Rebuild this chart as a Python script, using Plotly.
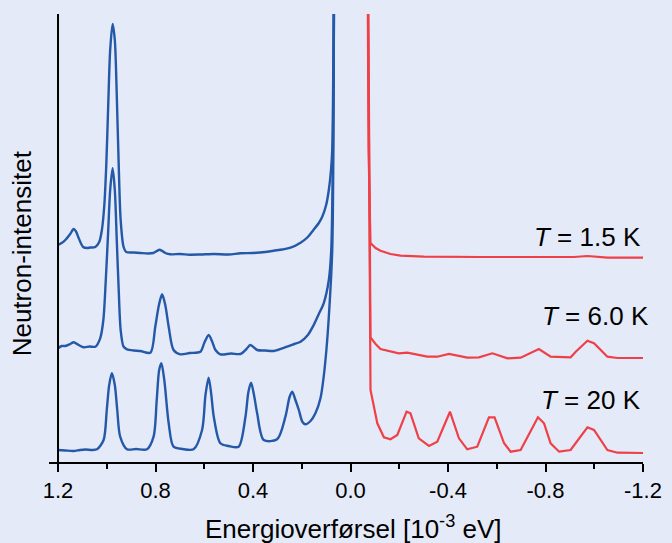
import plotly.graph_objects as go

# ---- data (energy transfer in 10^-3 eV, intensity in arbitrary units with vertical offsets) ----
e_blue_15 = [1.200, 1.185, 1.170, 1.150, 1.136, 1.125, 1.117, 1.097, 1.080, 1.068, 1.047, 1.031, 1.020,
             1.010, 1.002, 0.994, 0.986, 0.976, 0.967, 0.959, 0.951, 0.943, 0.931, 0.920, 0.890,
             0.862, 0.830, 0.809, 0.783, 0.760, 0.739, 0.700, 0.660, 0.616, 0.560, 0.500, 0.452,
             0.400, 0.350, 0.316, 0.280, 0.246, 0.205, 0.175, 0.152, 0.130, 0.116, 0.100, 0.089,
             0.080, 0.075, 0.069, 0.066]
i_blue_15 = [217, 219, 222, 228, 233, 230, 225, 215, 214, 214.5, 215, 220, 232,
             257, 297, 357, 412, 438, 422, 367, 297, 242, 215, 210, 209.5,
             209, 208.5, 209, 212.3, 209, 207.7, 208, 207.3, 207.5, 208, 207.5, 208.7,
             209, 210, 211.3, 212.5, 214.3, 219.3, 225, 232, 239, 245.3, 257, 272,
             292, 312, 448, 700]

e_blue_60 = [1.200, 1.185, 1.170, 1.150, 1.136, 1.115, 1.095, 1.070, 1.047, 1.027, 1.014, 1.004,
             0.994, 0.986, 0.976, 0.967, 0.959, 0.951, 0.943, 0.931, 0.917, 0.890, 0.862, 0.821,
             0.801, 0.786, 0.773, 0.760, 0.746, 0.726, 0.698, 0.660, 0.616, 0.600, 0.582, 0.567,
             0.554, 0.534, 0.490, 0.452, 0.427, 0.411, 0.383, 0.350, 0.315, 0.260, 0.230, 0.205,
             0.175, 0.151, 0.130, 0.110, 0.089, 0.079, 0.072, 0.068, 0.066]
i_blue_60 = [113.7, 116, 116, 118, 119.7, 117, 114.7, 115.5, 115.3, 123.7, 142, 182,
             232, 272, 293.7, 272, 222, 172, 132, 115.3, 112.7, 111.5, 111, 109.3,
             135.3, 157, 167.7, 157, 135.3, 112, 107.7, 109, 110.3, 119, 127, 120,
             112, 107.7, 108.5, 108, 113, 117, 112, 111.5, 111, 115.3, 118, 120.3,
             127, 137, 148, 158.7, 182, 212, 312, 448, 700]

e_blue_20 = [1.200, 1.170, 1.136, 1.110, 1.088, 1.060, 1.040, 1.013, 1.000, 0.990, 0.979, 0.967,
             0.957, 0.945, 0.917, 0.880, 0.835, 0.808, 0.795, 0.785, 0.776, 0.764, 0.746, 0.726,
             0.690, 0.644, 0.609, 0.595, 0.582, 0.571, 0.561, 0.534, 0.500, 0.459, 0.431, 0.419,
             0.408, 0.396, 0.383, 0.356, 0.301, 0.267, 0.250, 0.239, 0.226, 0.212, 0.197, 0.185,
             0.164, 0.144, 0.123, 0.110, 0.099, 0.089, 0.075, 0.068, 0.066]
i_blue_20 = [12, 11.5, 11, 12, 12.5, 12, 12.7, 22, 52, 77, 88.7, 77,
             52, 25.3, 12.7, 13, 12.7, 25.3, 62, 92, 98.7, 82, 38.7, 15.3,
             13, 12.7, 32, 67, 84.3, 67, 45.3, 18.7, 16, 15.3, 45.3, 70,
             79.3, 67, 48.7, 22, 22.7, 45.3, 65, 70.3, 62, 52, 40, 37.7,
             41, 48.7, 64, 85.3, 112, 145.3, 212, 448, 700]

e_red_15 = [-0.066, -0.074, -0.082, -0.103, -0.123, -0.164, -0.205, -0.301, -0.534, -0.917,
            -0.972, -1.054, -1.200]
i_red_15 = [700, 312, 219, 214, 211.3, 208, 206.3, 205.3, 205, 205, 206, 204.3, 204.3]

e_red_60 = [-0.066, -0.078, -0.082, -0.103, -0.123, -0.198, -0.233, -0.315, -0.356, -0.404,
            -0.479, -0.527, -0.582, -0.644, -0.698, -0.773, -0.821, -0.903, -0.924, -0.972,
            -0.999, -1.054, -1.095, -1.200]
i_red_60 = [700, 200, 124.7, 118, 113, 108.7, 109.3, 105.3, 105.3, 108,
            104.3, 104.7, 108.7, 103.7, 104.3, 113, 105.3, 104.7, 110.3, 121.3,
            118.7, 105.3, 104, 104]

e_red_20 = [-0.066, -0.082, -0.110, -0.137, -0.164, -0.192, -0.230, -0.246, -0.280, -0.322,
            -0.356, -0.408, -0.445, -0.479, -0.520, -0.568, -0.591, -0.630, -0.657, -0.698,
            -0.769, -0.794, -0.821, -0.856, -0.903, -0.972, -0.999, -1.054, -1.095, -1.200]
i_red_20 = [700, 72, 38.7, 24.7, 22.7, 27, 50.3, 48.7, 23.7, 16,
            20.3, 50.3, 23.7, 12.7, 15.3, 44.7, 44.7, 18.7, 10.3, 12,
            44.7, 38.7, 18.7, 10.3, 12, 34.7, 32, 12, 9.3, 9]

tick_vals = [1.2, 0.8, 0.4, 0.0, -0.4, -0.8, -1.2]
tick_text = ["1.2", "0.8", "0.4", "0.0", "-0.4", "-0.8", "-1.2"]
minor_vals = [1.0, 0.6, 0.2, -0.2, -0.6, -1.0]

labels = ["<i>T</i> = 1.5 K", "<i>T</i> = 6.0 K", "<i>T</i> = 20 K"]
label_levels = [225, 146, 62]
label_right = [1.0, 1.013, 1.0]   # paper fraction of plot width (right edge of text)

# ---- styles ----
BLUE = "#2458a8"
RED = "#ef4048"
BG = "#e4eaf7"
FONT = "Liberation Sans, Arial, sans-serif"

fig = go.Figure()
for ex, iy in [(e_blue_15, i_blue_15), (e_blue_60, i_blue_60), (e_blue_20, i_blue_20)]:
    fig.add_trace(go.Scatter(x=ex, y=iy, mode="lines",
                             line=dict(color=BLUE, width=2.4, shape="spline", smoothing=0.8),
                             showlegend=False, hoverinfo="skip"))
for ex, iy in [(e_red_15, i_red_15), (e_red_60, i_red_60), (e_red_20, i_red_20)]:
    fig.add_trace(go.Scatter(x=ex, y=iy, mode="lines", line=dict(color=RED, width=2.2),
                             showlegend=False, hoverinfo="skip"))

for txt, lvl, xr in zip(labels, label_levels, label_right):
    fig.add_annotation(x=xr, y=lvl, xref="paper", yref="y", text=txt, showarrow=False,
                       xanchor="right", yanchor="middle",
                       font=dict(family=FONT, size=26, color="black"))

# y-axis line at x = 1.2
fig.add_shape(type="line", xref="x", yref="paper", x0=1.2, x1=1.2, y0=0, y1=1,
              line=dict(color="black", width=2))

fig.add_annotation(x=-0.046, y=0.465, xref="paper", yref="paper", text="Neutron-intensitet",
                   textangle=-90, showarrow=False, xanchor="center", yanchor="middle",
                   font=dict(family=FONT, size=26, color="black"))
fig.add_annotation(x=0.512, y=-0.187, xref="paper", yref="paper",
                   text="Energioverførsel [10<sup>-3</sup> eV]", showarrow=False,
                   xanchor="center", yanchor="bottom",
                   font=dict(family=FONT, size=26, color="black"))

# page body adds an 8px offset; margins compensate so the plot area lands at 49..643 x 14..462
fig.update_layout(
    width=672, height=543,
    margin=dict(l=41, r=37, t=6, b=89),
    plot_bgcolor=BG, paper_bgcolor=BG,
    xaxis=dict(range=[1.237, -1.2], showgrid=False, zeroline=False,
               showline=True, linecolor="black", linewidth=2,
               ticks="outside", ticklen=8, tickwidth=2, tickcolor="black",
               tickvals=tick_vals, ticktext=tick_text,
               tickfont=dict(family=FONT, size=22, color="black"),
               minor=dict(tickvals=minor_vals, ticks="outside",
                          ticklen=5, tickwidth=2, tickcolor="black", showgrid=False)),
    yaxis=dict(range=[0, 448], visible=False, showgrid=False, zeroline=False),
)

fig.write_html("out.html", post_script="document.body.style.background='%s';" % BG)
